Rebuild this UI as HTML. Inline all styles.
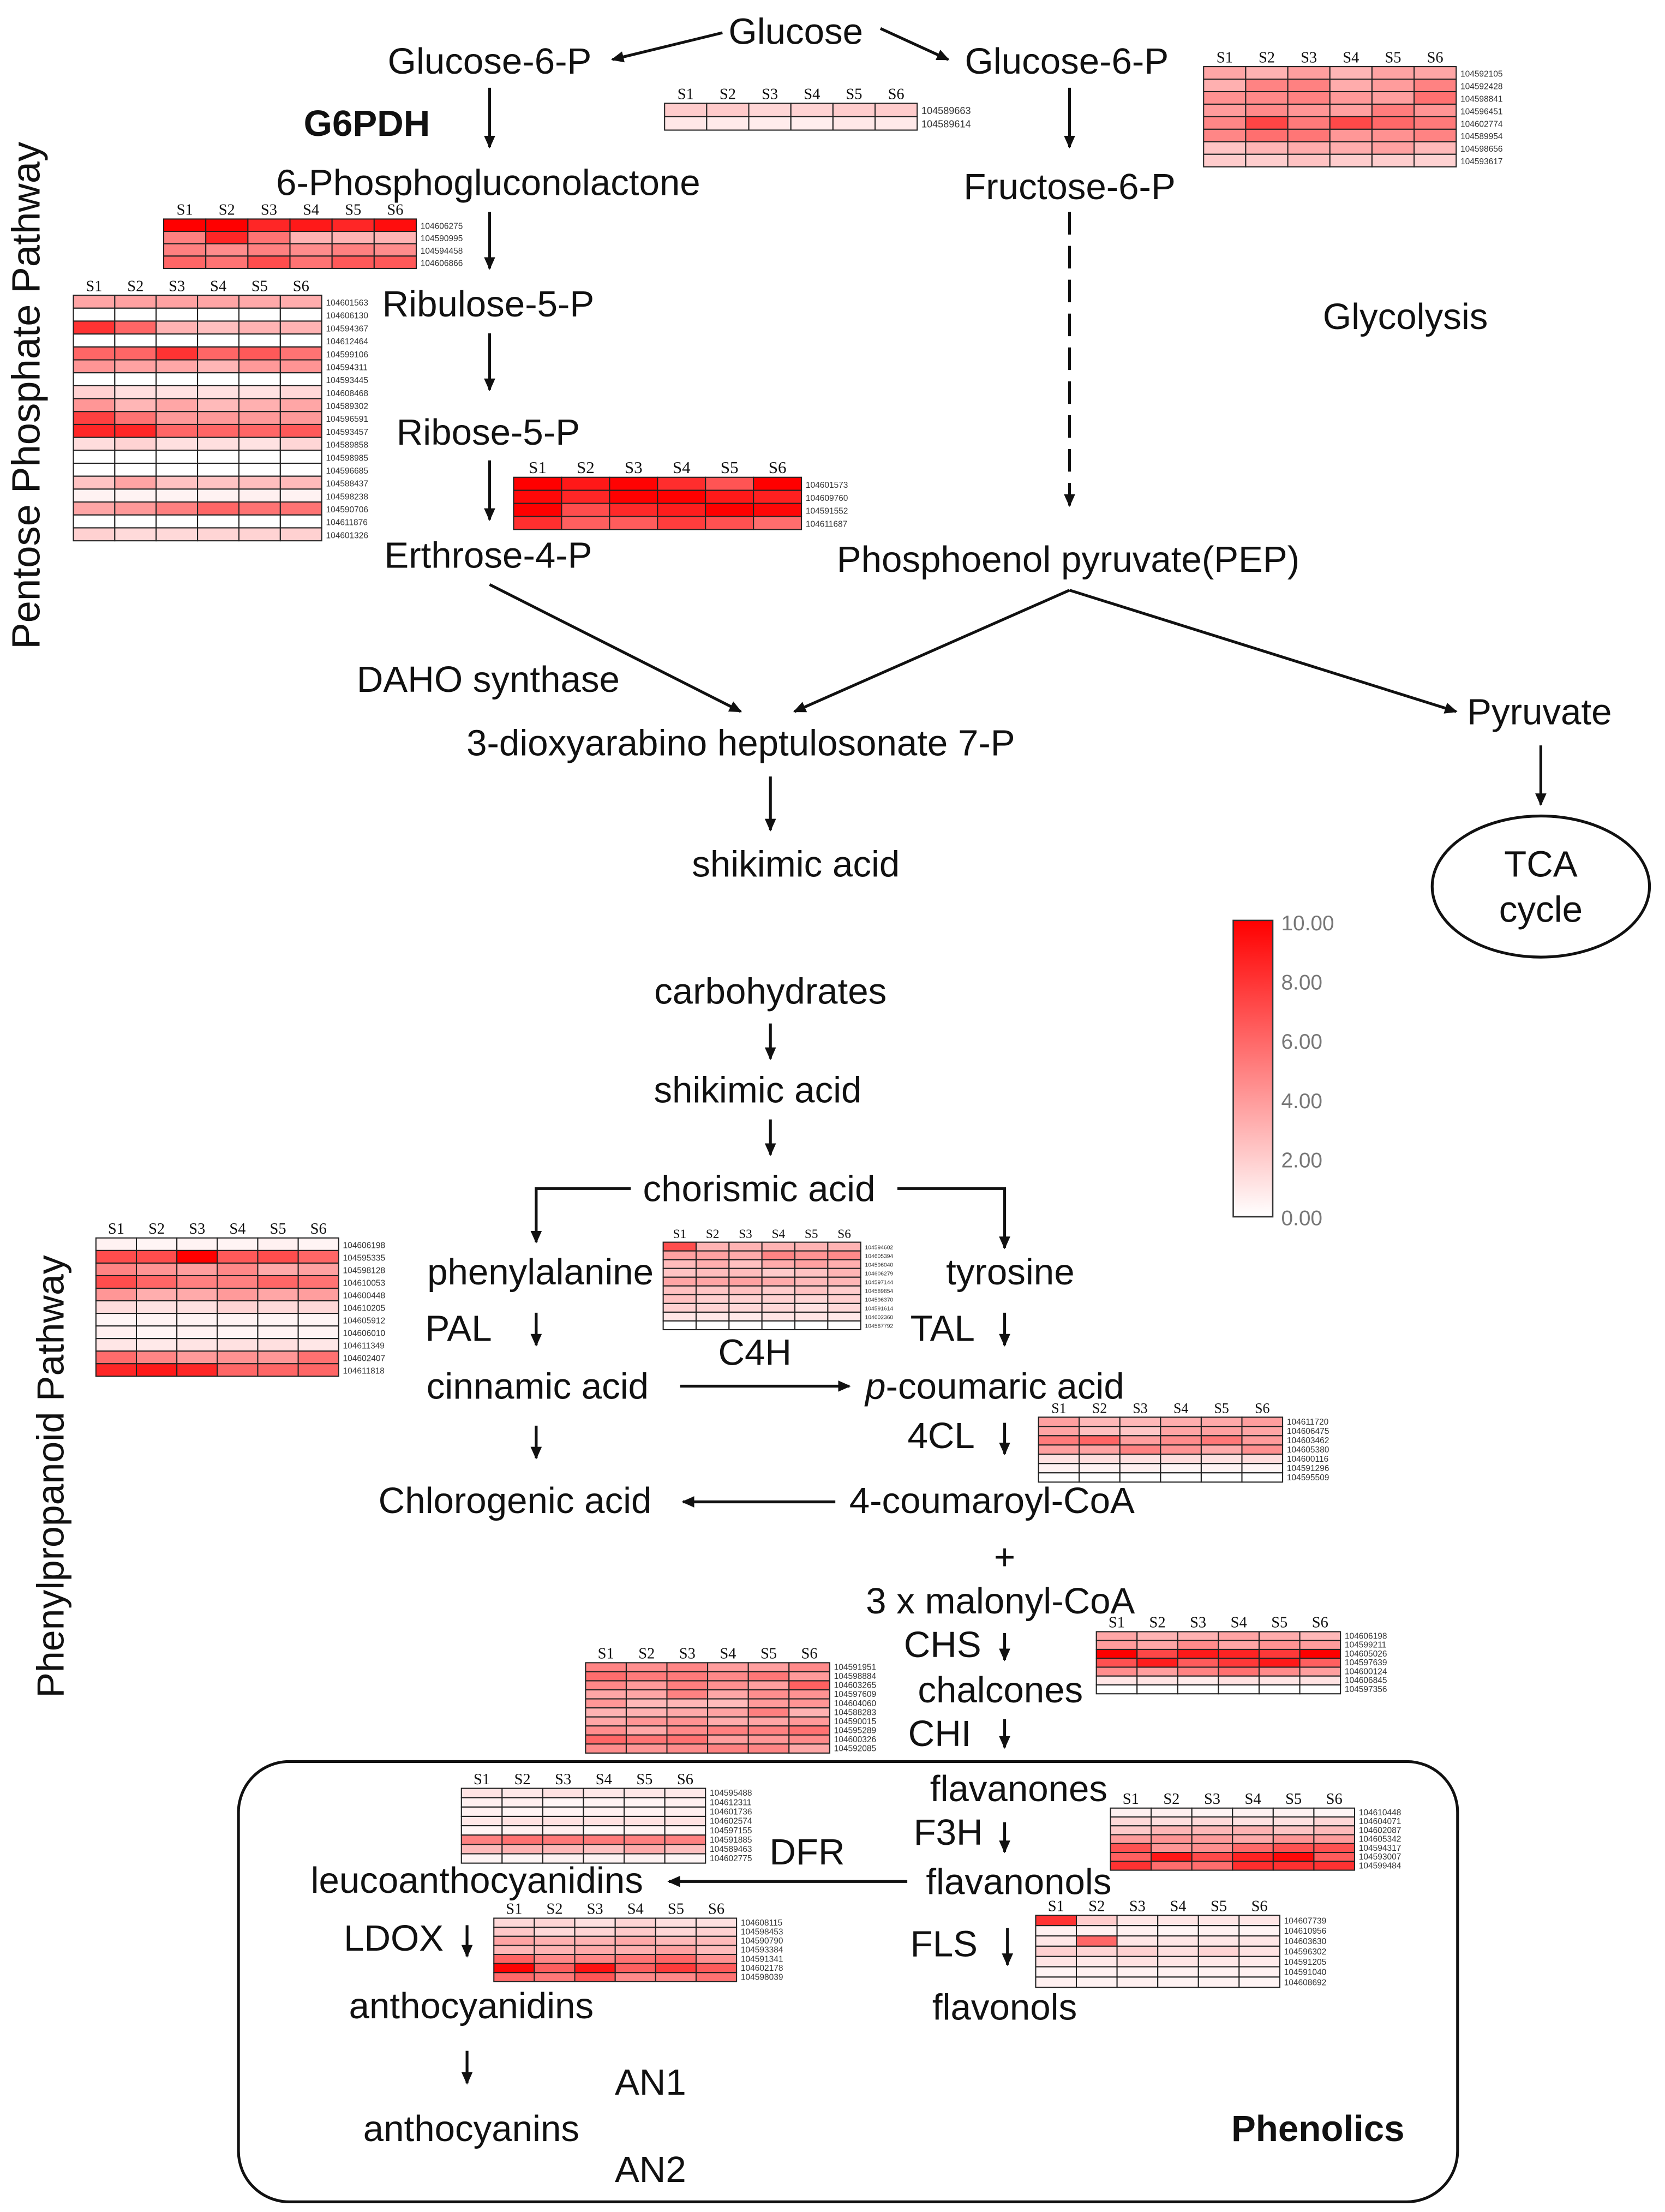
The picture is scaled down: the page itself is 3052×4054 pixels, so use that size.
<!DOCTYPE html>
<html><head><meta charset="utf-8"><style>
html,body{margin:0;padding:0;background:#fff;}
svg{display:block;}
text{font-family:"Liberation Sans",sans-serif;fill:#111;}
.t{font-size:26px;}
.s{font-family:"Liberation Serif",serif;font-size:11px;}
.id{font-size:6px;}
</style></head><body>
<svg id="sv" xmlns="http://www.w3.org/2000/svg" width="3052" height="4054" viewBox="0 0 1180 1567">
<defs>
<marker id="ar" markerWidth="10" markerHeight="10" refX="8" refY="4" orient="auto" markerUnits="userSpaceOnUse"><path d="M0,0 L9,4 L0,8 z" fill="#111"/></marker>
<linearGradient id="cb" x1="0" y1="0" x2="0" y2="1"><stop offset="0" stop-color="#ff0000"/><stop offset="1" stop-color="#ffffff"/></linearGradient>
</defs>
<rect width="1180" height="1567" fill="#fff"/>
<g stroke="#111" stroke-width="2" fill="none" marker-end="url(#ar)">
<line x1="512" y1="23" x2="434" y2="42"/>
<line x1="624" y1="20" x2="672" y2="42"/>
<line x1="347" y1="62" x2="347" y2="104"/>
<line x1="758" y1="62" x2="758" y2="104"/>
<line x1="347" y1="150" x2="347" y2="190"/>
<line x1="347" y1="236" x2="347" y2="276"/>
<line x1="347" y1="326" x2="347" y2="368"/>
<line x1="758" y1="150" x2="758" y2="358" stroke-dasharray="16,8"/>
<line x1="347" y1="414" x2="525" y2="504"/>
<line x1="758" y1="418" x2="563" y2="504"/>
<line x1="758" y1="418" x2="1032" y2="504"/>
<line x1="546" y1="550" x2="546" y2="588"/>
<line x1="1092" y1="528" x2="1092" y2="570"/>
<line x1="546" y1="725" x2="546" y2="750"/>
<line x1="546" y1="793" x2="546" y2="818"/>
<polyline points="447,842 380,842 380,880"/>
<polyline points="636,842 712,842 712,884"/>
<line x1="380" y1="930" x2="380" y2="953"/>
<line x1="712" y1="930" x2="712" y2="953"/>
<line x1="482" y1="982" x2="602" y2="982"/>
<line x1="380" y1="1010" x2="380" y2="1033"/>
<line x1="712" y1="1008" x2="712" y2="1030"/>
<line x1="592" y1="1064" x2="484" y2="1064"/>
<line x1="712" y1="1157" x2="712" y2="1176"/>
<line x1="712" y1="1218" x2="712" y2="1238"/>
<line x1="712" y1="1291" x2="712" y2="1312"/>
<line x1="643" y1="1333" x2="474" y2="1333"/>
<line x1="331" y1="1364" x2="331" y2="1386"/>
<line x1="714" y1="1366" x2="714" y2="1392"/>
<line x1="331" y1="1453" x2="331" y2="1476"/>
</g>
<text class="t" x="564" y="31" text-anchor="middle">Glucose</text>
<text class="t" x="347" y="52" text-anchor="middle">Glucose-6-P</text>
<text class="t" x="756" y="52" text-anchor="middle">Glucose-6-P</text>
<text class="t" x="260" y="96" text-anchor="middle" font-weight="bold">G6PDH</text>
<text class="t" x="346" y="138" text-anchor="middle">6-Phosphogluconolactone</text>
<text class="t" x="758" y="141" text-anchor="middle">Fructose-6-P</text>
<text class="t" x="346" y="224" text-anchor="middle">Ribulose-5-P</text>
<text class="t" x="996" y="233" text-anchor="middle">Glycolysis</text>
<text class="t" x="346" y="315" text-anchor="middle">Ribose-5-P</text>
<text class="t" x="346" y="402" text-anchor="middle">Erthrose-4-P</text>
<text class="t" x="757" y="405" text-anchor="middle">Phosphoenol pyruvate(PEP)</text>
<text class="t" x="346" y="490" text-anchor="middle">DAHO synthase</text>
<text class="t" x="1091" y="513" text-anchor="middle">Pyruvate</text>
<text class="t" x="525" y="535" text-anchor="middle">3-dioxyarabino heptulosonate 7-P</text>
<text class="t" x="564" y="621" text-anchor="middle">shikimic acid</text>
<ellipse cx="1092" cy="628" rx="77" ry="50" fill="none" stroke="#111" stroke-width="2"/>
<text class="t" x="1092" y="621" text-anchor="middle" font-size="22">TCA</text>
<text class="t" x="1092" y="653" text-anchor="middle" font-size="22">cycle</text>
<text class="t" x="28" y="280" text-anchor="middle" transform="rotate(-90 28 280)" style="font-size:28px">Pentose Phosphate Pathway</text>
<text class="t" x="45" y="1046" text-anchor="middle" transform="rotate(-90 45 1046)" style="font-size:27px">Phenylpropanoid Pathway</text>
<rect x="874" y="652" width="28" height="210" fill="url(#cb)" stroke="#333" stroke-width="1"/>
<g>
<text x="908" y="659" style="fill:#777;font-size:15px">10.00</text>
<text x="908" y="701" style="fill:#777;font-size:15px">8.00</text>
<text x="908" y="743" style="fill:#777;font-size:15px">6.00</text>
<text x="908" y="785" style="fill:#777;font-size:15px">4.00</text>
<text x="908" y="827" style="fill:#777;font-size:15px">2.00</text>
<text x="908" y="868" style="fill:#777;font-size:15px">0.00</text>
</g>
<text class="t" x="546" y="711" text-anchor="middle">carbohydrates</text>
<text class="t" x="537" y="781" text-anchor="middle">shikimic acid</text>
<text class="t" x="538" y="851" text-anchor="middle">chorismic acid</text>
<text class="t" x="383" y="910" text-anchor="middle">phenylalanine</text>
<text class="t" x="716" y="910" text-anchor="middle">tyrosine</text>
<text class="t" x="325" y="950" text-anchor="middle">PAL</text>
<text class="t" x="668" y="950" text-anchor="middle">TAL</text>
<text class="t" x="535" y="967" text-anchor="middle">C4H</text>
<text class="t" x="381" y="991" text-anchor="middle">cinnamic acid</text>
<text class="t" x="705" y="991" text-anchor="middle"><tspan font-style="italic">p</tspan>-coumaric acid</text>
<text class="t" x="667" y="1026" text-anchor="middle">4CL</text>
<text class="t" x="365" y="1072" text-anchor="middle">Chlorogenic acid</text>
<text class="t" x="703" y="1072" text-anchor="middle">4-coumaroyl-CoA</text>
<text class="t" x="712" y="1112" text-anchor="middle">+</text>
<text class="t" x="709" y="1143" text-anchor="middle">3 x malonyl-CoA</text>
<text class="t" x="668" y="1174" text-anchor="middle">CHS</text>
<text class="t" x="709" y="1206" text-anchor="middle">chalcones</text>
<text class="t" x="666" y="1237" text-anchor="middle">CHI</text>
<rect x="169" y="1248" width="864" height="312" rx="36" fill="none" stroke="#111" stroke-width="2"/>
<text class="t" x="722" y="1276" text-anchor="middle">flavanones</text>
<text class="t" x="672" y="1307" text-anchor="middle">F3H</text>
<text class="t" x="572" y="1321" text-anchor="middle">DFR</text>
<text class="t" x="338" y="1341" text-anchor="middle">leucoanthocyanidins</text>
<text class="t" x="722" y="1342" text-anchor="middle">flavanonols</text>
<text class="t" x="279" y="1382" text-anchor="middle">LDOX</text>
<text class="t" x="669" y="1386" text-anchor="middle">FLS</text>
<text class="t" x="334" y="1430" text-anchor="middle">anthocyanidins</text>
<text class="t" x="712" y="1431" text-anchor="middle">flavonols</text>
<text class="t" x="461" y="1484" text-anchor="middle">AN1</text>
<text class="t" x="334" y="1517" text-anchor="middle">anthocyanins</text>
<text class="t" x="934" y="1517" text-anchor="middle" font-weight="bold">Phenolics</text>
<text class="t" x="461" y="1546" text-anchor="middle">AN2</text>
<g id="hm"></g>
</svg>
<script>
var NS="http://www.w3.org/2000/svg",g=document.getElementById('hm');
function el(n,a,t){var e=document.createElementNS(NS,n);for(var k in a)e.setAttribute(k,a[k]);if(t)e.textContent=t;g.appendChild(e);return e;}
var seed=7;function rnd(){seed=(seed*9301+49297)%233280;return seed/233280;}
function col(v){v=Math.max(0,Math.min(1,v));var c=Math.round(255*(1-v));return 'rgb(255,'+c+','+c+')';}
function hm(x,y,w,h,rows,idfs,hfs){
  var cw=w/6,rh=h/rows.length;
  for(var i=0;i<6;i++)el('text',{x:x+cw*(i+0.5),y:y-3,'text-anchor':'middle',class:'s',style:'font-size:'+hfs+'px'},'S'+(i+1));
  for(var r=0;r<rows.length;r++){
    for(var c=0;c<6;c++){var b=rows[r];var v=Array.isArray(b)?b[c]:b*(0.75+0.5*rnd());
      el('rect',{x:x+cw*c,y:y+rh*r,width:cw,height:rh,fill:col(v),stroke:'#222','stroke-width':0.8});}
    el('text',{x:x+w+3,y:y+rh*(r+0.8),class:'id',style:'font-size:'+idfs+'px;fill:#333'},String(104587700+Math.floor(rnd()*25000)));
  }
}
hm(471,73,179,19,[0.2,0.08],7,11);
hm(853,47,179,71,[0.35,0.4,0.45,0.45,0.6,0.5,0.3,0.2],6,11);
hm(116,155,179,35,[[1,1,.85,.9,.85,.95],[.5,.85,.55,.3,.3,.3],[.5,.45,.5,.45,.5,.45],[.6,.55,.7,.55,.65,.65]],6,11);
hm(52,209,176,174,[.3,0,[.8,.6,.3,.25,.3,.3],0,[.6,.6,.8,.6,.65,.55],.35,0,.15,.35,[.75,.55,.4,.4,.4,.4],[.85,.85,.6,.6,.6,.65],.15,0,0,.3,.05,[.35,.4,.5,.6,.55,.55],0,.15],6,11);
hm(364,338,204,37,[.85,.9,.9,.75],6,12);
hm(68,877,172,98,[.05,[.7,.7,1,.65,.7,.6],.4,[.7,.6,.5,.5,.6,.55],.4,.15,.05,.05,.1,.5,[.85,.9,.85,.6,.6,.6]],6,11);
hm(470,880,140,62,[[.7,.3,.3,.3,.3,.3],.4,.3,.25,.35,.2,.2,.15,.1,0],4,9);
hm(736,1004,173,46,[.35,.3,.5,.4,.15,.05,0],6,10);
hm(777,1156,173,44,[.3,.4,.9,.8,.5,.1,0],6,11);
hm(415,1178,173,64,[.4,.5,.5,.4,.35,.4,.4,.45,.5,.4],6,11);
hm(327,1267,173,53,[.1,.05,.05,.1,.05,.6,.3,.05],6,11);
hm(787,1281,173,44,[.05,.15,.25,.35,.55,.8,.7],6,11);
hm(350,1359,172,45,[.15,.2,.3,.35,.5,.8,.55],6,11);
hm(734,1357,173,51,[[.8,.2,.1,.1,.1,.1],.05,[.1,.6,.1,.1,.1,.1],.15,.1,.05,.05],6,11);
</script>
</body></html>
